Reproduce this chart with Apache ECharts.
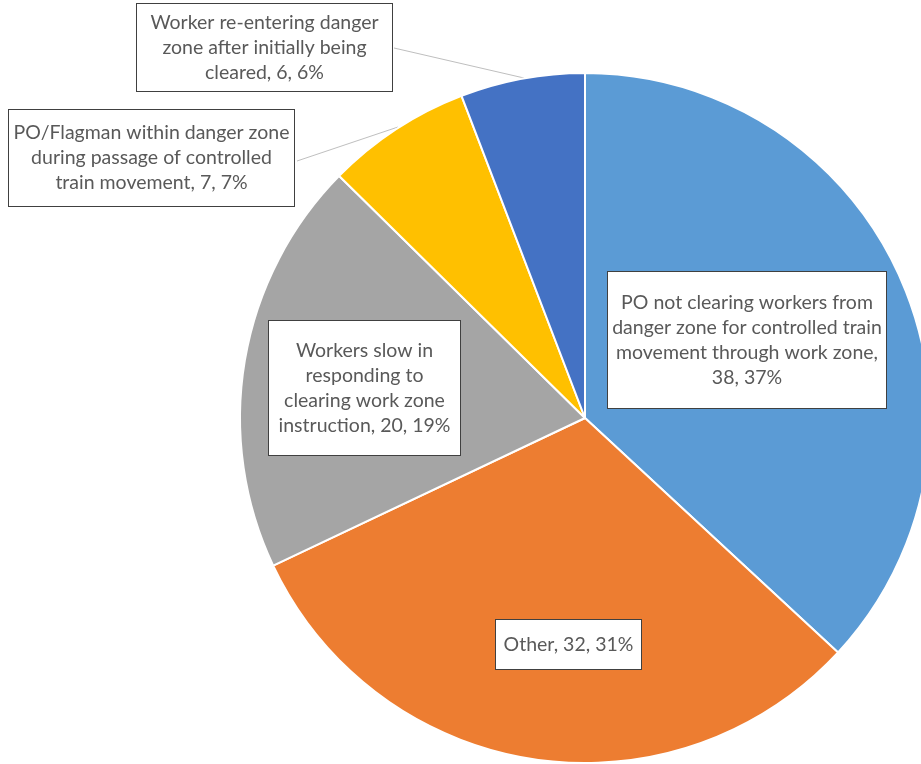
<!DOCTYPE html>
<html>
<head>
<meta charset="utf-8">
<style>
  html, body { margin: 0; padding: 0; background: #ffffff; }
  #chart { width: 921px; height: 764px; }
</style>
<script src="https://cdn.jsdelivr.net/npm/echarts@6/dist/echarts.min.js"></script>
</head>
<body>
<div id="chart"></div>
<script>
// Causes of incidents, in clockwise order from 12 o'clock
const categories = [
  'PO not clearing workers from danger zone for controlled train movement through work zone',
  'Other',
  'Workers slow in responding to clearing work zone instruction',
  'PO/Flagman within danger zone during passage of controlled train movement',
  'Worker re-entering danger zone after initially being cleared'
];
const counts = [38, 32, 20, 7, 6];
const percents = [37, 31, 19, 7, 6];

// Wrapped label text lines (category part) for each slice
const labelLines = [
  ['PO not clearing workers from', 'danger zone for controlled train', 'movement through work zone,'],
  [],
  ['Workers slow in', 'responding to', 'clearing work zone'],
  ['PO/Flagman within danger zone', 'during passage of controlled'],
  ['Worker re-entering danger', 'zone after initially being']
];
const labelTails = [
  '', 'Other, ', 'instruction, ', 'train movement, ', 'cleared, '
];

const colors = ['#5B9BD5', '#ED7D31', '#A5A5A5', '#FFC000', '#4472C4'];

// Callout boxes: centre, size (px) and the leader line, if any
const boxes = [
  { cx: 747,   cy: 340,   w: 280, h: 138, lines: 4, leader: null },
  { cx: 568.5, cy: 644.5, w: 147, h: 51,  lines: 1, leader: null },
  { cx: 364.5, cy: 388,   w: 193, h: 136, lines: 4, leader: null },
  { cx: 151.5, cy: 158,   w: 287, h: 98,  lines: 3, leader: [[297, 161], [398, 127]] },
  { cx: 264.5, cy: 47.5,  w: 257, h: 89,  lines: 3, leader: [[394, 48], [524, 78]] }
];

const LINE_H = 25;

function labelText(i) {
  const tail = labelTails[i] + counts[i] + ', ' + percents[i] + '%';
  return labelLines[i].concat([tail]).join('\n');
}

const data = categories.map(function (name, i) {
  const b = boxes[i];
  const padV = Math.max(0, (b.h - 2 - b.lines * LINE_H) / 2);
  return {
    name: name,
    value: counts[i],
    itemStyle: { color: colors[i] },
    label: {
      formatter: labelText(i),
      width: b.w - 2,
      padding: [padV, 0, padV, 0]
    },
    labelLine: {
      show: !!b.leader,
      lineStyle: { color: '#BFBFBF', width: 1 }
    }
  };
});

const chart = echarts.init(document.getElementById('chart'), null, { renderer: 'canvas' });

chart.setOption({
  animation: false,
  backgroundColor: '#ffffff',
  series: [{
    type: 'pie',
    center: [585, 418],
    radius: [0, 345],
    startAngle: 90,
    clockwise: true,
    silent: true,
    itemStyle: { borderColor: '#ffffff', borderWidth: 2 },
    label: {
      show: true,
      position: 'outside',
      color: '#595959',
      fontFamily: 'Lato, "Open Sans", sans-serif',
      fontSize: 19.5,
      lineHeight: LINE_H,
      align: 'center',
      backgroundColor: '#ffffff',
      borderColor: '#404040',
      borderWidth: 1,
      overflow: 'none'
    },
    labelLine: { show: false },
    labelLayout: function (params) {
      const b = boxes[params.dataIndex];
      const out = {
        x: b.cx,
        y: b.cy,
        align: 'center',
        verticalAlign: 'middle'
      };
      if (b.leader) {
        out.labelLinePoints = [b.leader[0], b.leader[1], b.leader[1]];
      }
      return out;
    },
    data: data
  }]
});
</script>
</body>
</html>
